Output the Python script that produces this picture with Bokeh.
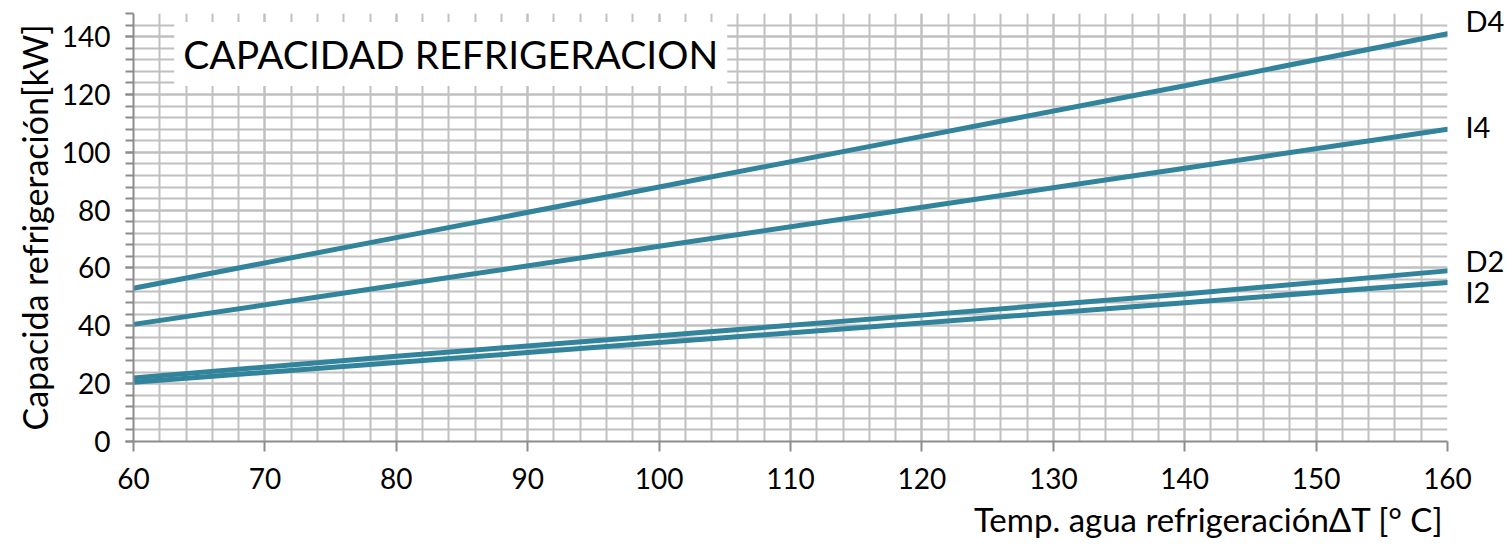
from bokeh.plotting import figure
from bokeh.models import Range1d, Label, Title, SingleIntervalTicker, LinearAxis, FixedTicker
from bokeh.embed import file_html
from bokeh.resources import INLINE

x_vals = [60, 80, 100, 120, 140, 160]
d4 = [53, 70.5, 88, 105.5, 123, 141]
i4 = [40.5, 54, 67.5, 81, 94.5, 108]
d2 = [22, 29.5, 36.6, 43.7, 51, 59]
i2 = [20.5, 27.3, 34.2, 41, 48, 55]
series_names = ["D4", "I4", "D2", "I2"]
title_text = "CAPACIDAD REFRIGERACION"
x_label = "Temp. agua refrigeraciónΔT [° C]"
y_label = "Capacida refrigeración[kW]"

LINE = "#31849B"
GRID = "#C0C0C0"
AXIS = "#8C8C8C"
FONT = "Lato"

p = figure(width=1507, height=543, output_backend="svg", toolbar_location=None,
           x_range=Range1d(60, 160), y_range=Range1d(0, 148),
           min_border_left=133, min_border_right=54, min_border_top=13, min_border_bottom=100)
p.outline_line_color = None
p.background_fill_color = "white"

p.xaxis.ticker = SingleIntervalTicker(interval=10, num_minor_ticks=5)
p.yaxis.ticker = SingleIntervalTicker(interval=20, num_minor_ticks=5)

for g in (p.xgrid[0], p.ygrid[0]):
    g.grid_line_color = GRID
    g.grid_line_width = 2
    g.minor_grid_line_color = GRID
    g.minor_grid_line_width = 2

for ax in (p.xaxis[0], p.yaxis[0]):
    ax.axis_line_color = AXIS
    ax.axis_line_width = 2
    ax.major_tick_line_color = AXIS
    ax.major_tick_line_width = 2
    ax.minor_tick_line_color = AXIS
    ax.minor_tick_line_width = 2
    ax.major_tick_in = 0
    ax.minor_tick_in = 0
    ax.major_label_text_font = FONT
    ax.major_label_text_font_size = "28px"
    ax.major_label_text_color = "#000000"

p.xaxis.major_tick_out = 10
p.xaxis.minor_tick_out = 0
p.xaxis.major_label_standoff = 16
p.yaxis.major_tick_out = 8
p.yaxis.minor_tick_out = 8
p.yaxis.major_label_standoff = 15

p.yaxis.axis_label = y_label
p.yaxis.axis_label_text_font = FONT
p.yaxis.axis_label_text_font_style = "normal"
p.yaxis.axis_label_text_font_size = "34px"
p.yaxis.axis_label_text_color = "#000000"
p.yaxis.axis_label_standoff = 4

series = [d4, i4, d2, i2]
for ys in series:
    p.line(x_vals, ys, line_color=LINE, line_width=5, line_cap="round")

# series names on a right-hand axis, next to each line's end
shifts = [4.6, 0.9, 3.5, -3.0]
name_pos = [ys[-1] + s for ys, s in zip(series, shifts)]
right = LinearAxis(ticker=FixedTicker(ticks=name_pos),
                   major_label_overrides={v: n for v, n in zip(name_pos, series_names)})
right.axis_line_color = None
right.major_tick_line_color = None
right.minor_tick_line_color = None
right.major_label_standoff = 12
right.major_label_text_font = FONT
right.major_label_text_font_size = "29px"
right.major_label_text_color = "#000000"
p.add_layout(right, "right")

p.add_layout(Label(x=63.1, y=134, text=title_text, text_font=FONT, text_font_size="39px",
                   text_baseline="middle", text_color="#000000",
                   background_fill_color="white", padding=9))

p.add_layout(Title(text=x_label, align="right", text_font=FONT, text_font_size="33px",
                   text_font_style="normal", text_color="#000000", offset=4), "below")

open("out.html", "w").write(file_html(p, INLINE))
